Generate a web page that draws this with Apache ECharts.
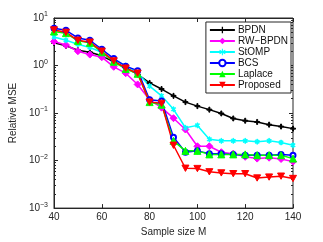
<!DOCTYPE html>
<html>
<head>
<meta charset="utf-8">
<script src="https://cdn.jsdelivr.net/npm/echarts@6/dist/echarts.min.js"></script>
<style>
html,body{margin:0;padding:0;background:#fff;}
#c{width:323px;height:242px;}
</style>
</head>
<body>
<div id="c"></div>
<script>
const sampleSizes = [40,45,50,55,60,65,70,75,80,85,90,95,100,105,110,115,120,125,130,135,140];
const seriesNames = ['BPDN','RW\u2212BPDN','StOMP','BCS','Laplace','Proposed'];
const bpdn     = [3.0,2.6,2.1,1.9,1.6,1.19,0.9,0.65,0.43,0.32,0.23,0.17,0.14,0.118,0.098,0.077,0.069,0.065,0.057,0.052,0.047];
const rwbpdn   = [3.2,2.7,2.0,1.7,1.5,0.94,0.69,0.40,0.19,0.13,0.078,0.045,0.020,0.020,0.015,0.014,0.012,0.011,0.0115,0.0108,0.0095];
const stomp    = [4.0,3.4,2.8,2.4,1.9,1.3,1.0,0.70,0.37,0.23,0.12,0.049,0.055,0.028,0.026,0.026,0.026,0.025,0.026,0.024,0.021];
const bcs      = [6.1,5.5,3.8,3.4,2.2,1.4,0.97,0.78,0.19,0.18,0.031,0.015,0.016,0.014,0.014,0.0135,0.013,0.013,0.013,0.0135,0.013];
const laplace  = [5.2,4.8,3.3,3.0,1.9,1.2,0.85,0.67,0.17,0.15,0.026,0.016,0.016,0.0135,0.0135,0.0135,0.0135,0.013,0.013,0.013,0.011];
const proposed = [5.6,5.0,3.4,3.1,2.0,1.25,0.88,0.69,0.17,0.16,0.021,0.0069,0.0068,0.0058,0.0055,0.0053,0.0053,0.0043,0.0045,0.0047,0.0042];
const xTicks = [40,60,80,100,120,140];
const yMajor = [0.001,0.01,0.1,1,10];
const yMinor = [];
[0.001,0.01,0.1,1].forEach(d => { for (let k = 2; k <= 9; k++) yMinor.push(+(d*k).toPrecision(3)); });

const FONT = 'Liberation Sans';
const AX = '#262626';
const plusPath = 'path://M4,0H6V4H10V6H6V10H4V6H0V4H4Z';
const starPath = 'path://M4.3,0H5.7V3.3L8.6,1.6L9.3,2.8L6.4,4.5V5.5L9.3,7.2L8.6,8.4L5.7,6.7V10H4.3V6.7L1.4,8.4L0.7,7.2L3.6,5.5V4.5L0.7,2.8L1.4,1.6L4.3,3.3Z';

function mk(name, data, color, symbol, size, extra) {
  return Object.assign({
    name: name, type: 'line',
    data: sampleSizes.map((x,i) => [x, data[i]]),
    lineStyle: {color: color, width: 1.5},
    itemStyle: {color: color, borderColor: color},
    symbol: symbol, symbolSize: size, symbolKeepAspect: true,
    showSymbol: true, animation: false, z: 3
  }, extra || {});
}

const chart = echarts.init(document.getElementById('c'), null, {renderer: 'canvas'});
const yLabel = v => { const e = Math.round(Math.log10(v)); return '{b|10}{s|' + (e < 0 ? '\u2212' + (-e) : e) + '}'; };
const tickAxisY = (pos, custom, len, showLabel, idx) => ({
  type: 'log', logBase: 10, min: 0.001, max: 10, position: pos, gridIndex: 0,
  axisLine: {show: idx === 0, lineStyle: {color: AX, width: 1}},
  axisTick: {show: true, inside: true, length: len, customValues: custom, lineStyle: {color: AX, width: 1}},
  axisLabel: showLabel ? {show: true, customValues: yMajor, formatter: yLabel, margin: 6,
    rich: {b: {fontFamily: FONT, fontSize: 10, color: '#262626'}, s: {fontFamily: FONT, fontSize: 7, color: '#262626', padding: [0,0,7,0]}}} : {show: false},
  splitLine: {show: false}, minorTick: {show: false},
  name: showLabel ? 'Relative MSE' : '', nameLocation: 'middle', nameGap: 25,
  nameTextStyle: {fontFamily: FONT, fontSize: 10, color: '#262626'}
});
chart.setOption({
  animation: false,
  backgroundColor: '#fff',
  grid: {left: 42, right: 30, top: 18, bottom: 27, show: true, borderColor: AX, borderWidth: 1, backgroundColor: 'transparent'},
  xAxis: [{
    type: 'value', min: 40, max: 140, interval: 20, position: 'bottom',
    axisLine: {show: true, onZero: false, lineStyle: {color: AX}},
    axisTick: {show: true, inside: true, length: 4, lineStyle: {color: AX}},
    axisLabel: {fontFamily: FONT, fontSize: 10, color: '#262626', margin: 4},
    splitLine: {show: false},
    name: 'Sample size M', nameLocation: 'middle', nameGap: 15,
    nameTextStyle: {fontFamily: FONT, fontSize: 10, color: '#262626'}
  }, {
    type: 'value', min: 40, max: 140, interval: 20, position: 'top',
    axisLine: {show: true, onZero: false, lineStyle: {color: AX}},
    axisTick: {show: true, inside: true, length: 4, lineStyle: {color: AX}},
    axisLabel: {show: false}, splitLine: {show: false}
  }],
  yAxis: [
    tickAxisY('left', yMajor, 4, true, 0),
    tickAxisY('left', yMinor, 2, false, 1),
    tickAxisY('right', yMajor, 4, false, 2),
    tickAxisY('right', yMinor, 2, false, 3)
  ],
  legend: {
    orient: 'vertical', right: 32, top: 22,
    backgroundColor: '#fff', borderColor: AX, borderWidth: 1, borderRadius: 0,
    padding: [3,3,3,3], itemWidth: 25, itemHeight: 8, itemGap: 1,
    textStyle: {fontFamily: FONT, fontSize: 10, lineHeight: 10, color: '#111', padding: [0,0,0,-2]},
    data: seriesNames
  },
  series: [
    mk(seriesNames[0], bpdn, '#000000', plusPath, 5),
    mk(seriesNames[1], rwbpdn, '#ff00ff', 'diamond', 7),
    mk(seriesNames[2], stomp, '#00ffff', starPath, 5),
    mk(seriesNames[3], bcs, '#0000ff', 'emptyCircle', 5, {itemStyle: {color: '#0000ff', borderColor: '#0000ff', borderWidth: 1.5}}),
    mk(seriesNames[4], laplace, '#00ff00', 'triangle', 7),
    mk(seriesNames[5], proposed, '#ff0000', 'path://M0,0H10L5,9Z', 7)
  ]
});
</script>
</body>
</html>
